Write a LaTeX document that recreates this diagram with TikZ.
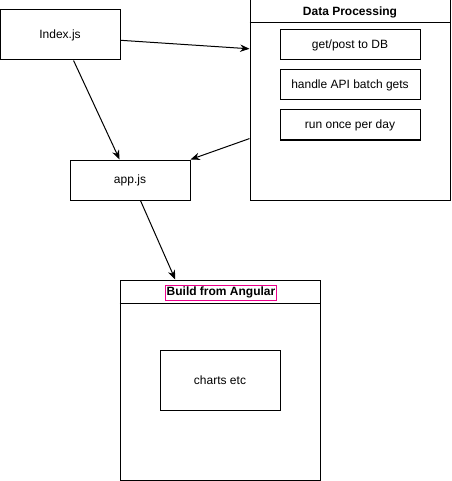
\documentclass[tikz,border=0pt]{standalone}
\usepackage{fontspec}
\setmainfont{Liberation Sans}
\usetikzlibrary{arrows.meta}

\begin{document}
\begin{tikzpicture}[x=0.75pt,y=-0.75pt,line width=0.75pt,>={Stealth[length=7pt,width=5.5pt]},
font=\fontsize{9}{11}\selectfont,
block/.style={draw,rectangle,inner sep=2pt,minimum width=90pt,minimum height=#1},
block/.default=30pt,
container/.style={draw,rectangle,inner sep=0pt,minimum width=150pt,minimum height=150pt},
inner/.style={draw,rectangle,inner sep=2pt,minimum width=105pt,minimum height=22.5pt},
heading/.style={font=\fontsize{9}{11}\selectfont\bfseries,inner sep=1pt}]

\useasboundingbox (0,0) rectangle (451,481);

\draw (60,35) node[block=37.5pt] (Index) {Index.js};
\draw (130,180) node[block] (App) {app.js};

% data processing container
\draw (350,100) node[container] (Proc) {};
\draw (350,12.5) node[heading] (ProcTitle) {Data Processing};
\draw (Proc.west |- 0,23) -- (Proc.east |- 0,23);
\draw (350,45) node[inner] (DB) {get/post to DB};
\draw (350,85) node[inner] (Batch) {handle API batch gets};
\draw (350,125) node[inner] (Daily) {run once per day};

% angular container
\draw (220,380) node[container] (Ang) {};
\node[heading,draw=magenta,minimum width=82.5pt,minimum height=11.25pt] (AngTitle) at (221,292.5) {Build from Angular};
\draw (Ang.west |- 0,303) -- (Ang.east |- 0,303);
\draw (220,380) node[block=45pt] (Charts) {charts etc};

\draw[->] (Index.-5) -- (Proc.153);
\draw[->] (Index.-62) -- (App.117);
\draw[->] (Proc.201) -- (App.north east);
\draw[->] (App.-63) -- (Ang.114);

\end{tikzpicture}
\end{document}
